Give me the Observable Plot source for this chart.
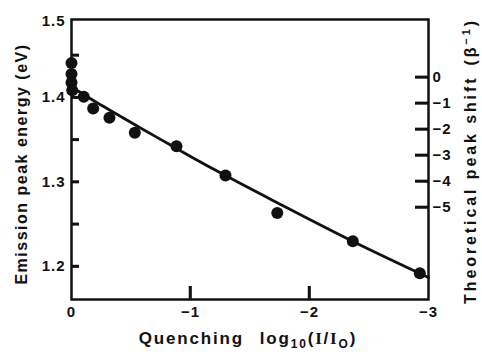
<!DOCTYPE html>
<html><head><meta charset="utf-8">
<script src="https://cdn.jsdelivr.net/npm/d3@7"></script>
<script src="https://cdn.jsdelivr.net/npm/@observablehq/plot@0.6"></script>
<style>
html,body{margin:0;padding:0;background:#fff;}
#chart svg{display:block;}
#chart svg text{letter-spacing:1px;}
</style></head><body><div id="chart"></div>
<script>
// measured points: quenching log10(I/I0) vs emission peak energy (eV)
const quenching  = [0, 0, 0, -0.006, -0.103, -0.182, -0.319, -0.532, -0.882, -1.294, -1.729, -2.364, -2.927];
const peakEnergy = [1.441, 1.428, 1.418, 1.4086, 1.401, 1.387, 1.3763, 1.3585, 1.3423, 1.3079, 1.2633, 1.2301, 1.192];
// theoretical curve
const fitQuenching = [0, -0.0168, -0.042, -0.0756, -0.1176, -0.1597, -0.2437, -0.4118, -0.5798, -0.7479, -1.0, -1.2941, -1.7563, -2.3613, -3];
const fitEnergy    = [1.4217, 1.4146, 1.4092, 1.4063, 1.4024, 1.3987, 1.3916, 1.3778, 1.3641, 1.3506, 1.3304, 1.3077, 1.2736, 1.2300, 1.1871];
// axes
const xDomain = [0, -3];
const yDomain = [1.161, 1.4925];
const xTickMarks = [-1, -2];
const xTickLabels = [0, -1, -2, -3];
const yTickMarks = [1.2, 1.25, 1.3, 1.35, 1.4, 1.45];
const yTickLabels = [1.2, 1.3, 1.4];
const yTopLabel = ["1.5"];
// right axis: theoretical peak shift (beta^-1)
const shiftTicks = [0, -1, -2, -3, -4, -5];
const shiftZeroEnergy = 1.424;
const energyPerShift = 0.0308;

const W = 482, H = 352, mL = 71, mR = 54, mT = 19, mB = 53;
const frameW = W - mL - mR, frameH = H - mT - mB;
const shortTick = 8, longTick = 13;

const points = quenching.map((q, i) => ({q, e: peakEnergy[i]}));
const fit = fitQuenching.map((q, i) => ({q, e: fitEnergy[i]}));
const shiftPos = shiftTicks.map(v => shiftZeroEnergy + energyPerShift * v);
const minus = v => v < 0 ? "\u2212" + Math.abs(v) : String(v);
const ink = "#111";

const plot = Plot.plot({
  width: W, height: H,
  marginLeft: mL, marginRight: mR, marginTop: mT, marginBottom: mB,
  x: {domain: xDomain},
  y: {domain: yDomain},
  style: {fontFamily: "'Liberation Sans', Arial, sans-serif", fontWeight: "bold", fontSize: "15px", color: ink, background: "white"},
  marks: [
    Plot.line(fit, {x: "q", y: "e", curve: "monotone-x", stroke: ink, strokeWidth: 2.8}),
    Plot.dot(points, {x: "q", y: "e", r: 6, fill: ink}),
    // inward tick marks
    Plot.tickY(yTickMarks, {y: d => d, insetRight: frameW - shortTick, stroke: ink, strokeWidth: 2.5}),
    Plot.tickY(shiftPos, {y: d => d, insetLeft: frameW - longTick, stroke: ink, strokeWidth: 2.5}),
    Plot.tickX(xTickMarks, {x: d => d, insetTop: frameH - longTick, stroke: ink, strokeWidth: 2.5}),
    Plot.frame({stroke: ink, strokeWidth: 2.5}),
    // tick labels
    Plot.axisY(yTickLabels, {anchor: "left", tickSize: 0, tickPadding: 6, tickFormat: d => d.toFixed(1), label: null}),
    Plot.text(yTopLabel, {x: () => xDomain[0], y: () => yDomain[1], text: d => d, textAnchor: "end", dx: -6, dy: 2}),
    Plot.axisX(xTickLabels, {anchor: "bottom", tickSize: 0, tickPadding: 7, tickFormat: minus, label: null}),
    Plot.axisY(shiftPos, {anchor: "right", tickSize: 0, tickPadding: 4,
      tickFormat: d => minus(Math.round((d - shiftZeroEnergy) / energyPerShift)), label: null})
  ]
});
document.getElementById("chart").appendChild(plot);

const svg = d3.select(plot);
// reinforce the inward ticks with lines placed by the plot's own scales
const xs = plot.scale("x"), ys = plot.scale("y");
const x0 = xs.apply(xDomain[0]), x1 = xs.apply(xDomain[1]), yb = ys.apply(yDomain[0]);
const addTick = (xa, xb, ya, yb2) => svg.append("line")
  .attr("x1", xa).attr("x2", xb).attr("y1", ya).attr("y2", yb2)
  .attr("stroke", ink).attr("stroke-width", 2.5);
yTickMarks.forEach(v => addTick(x0, x0 + shortTick, ys.apply(v), ys.apply(v)));
shiftPos.forEach(v => addTick(x1, x1 - longTick, ys.apply(v), ys.apply(v)));
xTickMarks.forEach(v => addTick(xs.apply(v), xs.apply(v), yb, yb - longTick));

// axis titles
const titleFont = "'Liberation Sans', Arial, sans-serif";
svg.append("text")
  .attr("transform", "translate(27,164) rotate(-90)")
  .attr("text-anchor", "middle")
  .style("font-family", titleFont).style("font-weight", "bold").style("font-size", "16px")
  .style("letter-spacing", "1.5px").attr("fill", ink)
  .text("Emission peak energy (eV)");

const rt = svg.append("text")
  .attr("transform", "translate(476,161) rotate(-90)")
  .attr("text-anchor", "middle")
  .style("font-family", titleFont).style("font-weight", "bold").style("font-size", "16px")
  .style("letter-spacing", "2.9px").attr("fill", ink);
rt.append("tspan").text("Theoretical peak shift");
rt.append("tspan").attr("dx", 10).text("(\u03b2");
rt.append("tspan").attr("dy", -6).style("font-size", "11px").text("\u22121");
rt.append("tspan").attr("dy", 6).text(")");

const bt = svg.append("text")
  .attr("x", 248).attr("y", 344)
  .attr("text-anchor", "middle")
  .style("font-family", titleFont).style("font-weight", "bold").style("font-size", "17px")
  .style("letter-spacing", "1.8px").attr("fill", ink);
bt.append("tspan").text("Quenching");
bt.append("tspan").attr("dx", 16).text("log");
bt.append("tspan").attr("dy", 4).style("font-size", "12px").text("10");
bt.append("tspan").attr("dy", -4).text("(");
bt.append("tspan").style("font-family", "'Liberation Serif', serif").text("I");
bt.append("tspan").text("/");
bt.append("tspan").style("font-family", "'Liberation Serif', serif").text("I");
bt.append("tspan").attr("dy", 4).style("font-size", "12px").text("O");
bt.append("tspan").attr("dy", -4).text(")");
</script>
</body></html>
